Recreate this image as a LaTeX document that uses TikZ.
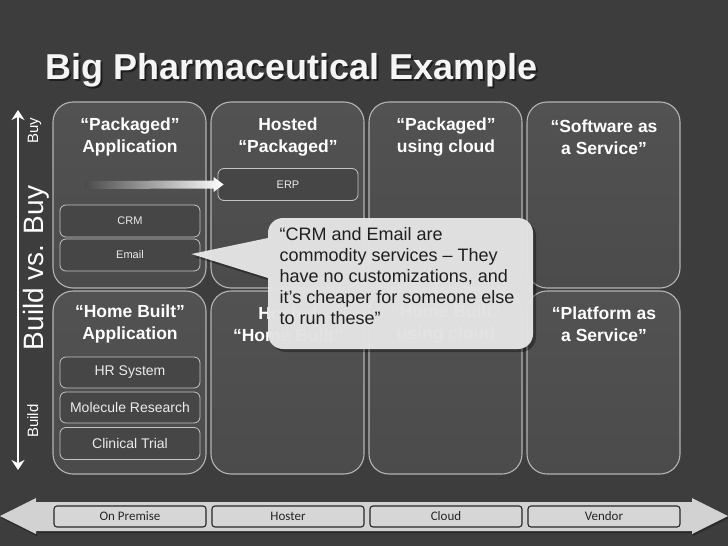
\documentclass[tikz,border=0pt]{standalone}
\usepackage{fontspec}
\setmainfont{Liberation Sans}
\newfontfamily\calib{Carlito}
\usetikzlibrary{arrows.meta,calc}
\definecolor{bgc}{HTML}{3D3D3D}
\definecolor{panelc}{HTML}{4B4B4B}
\definecolor{paneltop}{HTML}{525252}
\definecolor{panelbd}{HTML}{B4B4B4}
\definecolor{innerc}{HTML}{464646}
\definecolor{innerbd}{HTML}{C4C4C4}
\definecolor{callc}{HTML}{E6E6E6}
\definecolor{barc}{HTML}{D2D2D2}
\definecolor{boxc}{HTML}{D6D6D6}
\definecolor{tshadow}{HTML}{1E1E1E}
\tikzset{
  panel/.style={draw=panelbd, line width=1.1pt, rounded corners=20pt, top color=paneltop, bottom color=panelc, minimum width=153pt, inner sep=0pt},
  ptitle/.style={text=white, font=\fontsize{17.5}{22}\selectfont\bfseries, align=center, inner sep=0pt},
  innerbox/.style={draw=innerbd, line width=0.8pt, rounded corners=6pt, fill=innerc, minimum width=140pt, inner sep=0pt, text=white!92!black},
  smalltxt/.style={font=\fontsize{11}{13}\selectfont},
  midtxt/.style={font=\fontsize{14}{16}\selectfont},
  axislbl/.style={text=white, rotate=90, anchor=base, inner sep=0pt},
  barbox/.style={draw=black!85, line width=1.1pt, rounded corners=3pt, fill=boxc, minimum width=152pt, minimum height=21pt, inner sep=0pt, font=\calib\fontsize{13}{15}\selectfont, text=black!85},
}
\newcommand{\ttlwords}{Big Pharmaceutical Example}
\begin{document}
\begin{tikzpicture}[x=1pt,y=-1pt]
\useasboundingbox (0,0) rectangle (728,546);
\fill[bgc] (0,0) rectangle (728,546);

% title with shadow in one node
\node[anchor=base west, inner sep=0pt, text=white!96!black, font=\fontsize{36}{40}\selectfont\bfseries] (title) at (45,79.5)
  {\makebox[0pt][l]{\hspace{2pt}\raisebox{-2pt}{\color{tshadow}\ttlwords}}\ttlwords};

% vertical axis
\coordinate (vtop) at (18,110);
\coordinate (vbot) at (18,470);
\draw[white, line width=1.6pt, {Stealth[length=10pt,width=13pt]}-{Stealth[length=10pt,width=13pt]}] (vtop) -- (vbot);
\node[axislbl, font=\fontsize{15}{17}\selectfont] (buy) at (38,131) {Buy};
\node[axislbl, font=\fontsize{28}{30}\selectfont] (bvb) at (43.5,268) {Build vs. Buy};
\node[axislbl, font=\fontsize{15}{17}\selectfont] (build) at (38,421) {Build};

% panels top row
\node[panel, minimum height=186pt] (p11) at (129.5,195) {};
\node[panel, minimum height=186pt] (p12) at (287.5,195) {};
\node[panel, minimum height=186pt] (p13) at (445.5,195) {};
\node[panel, minimum height=186pt] (p14) at (603.5,195) {};
% panels bottom row
\node[panel, minimum height=183pt] (p21) at (129.5,382.5) {};
\node[panel, minimum height=183pt] (p22) at (287.5,382.5) {};
\node[panel, minimum height=183pt] (p23) at (445.5,382.5) {};
\node[panel, minimum height=183pt] (p24) at (603.5,382.5) {};

% panel titles
\node[ptitle] (t11) at (130,137) {“Packaged”\\Application};
\node[ptitle] (t12) at (288,137) {Hosted\\“Packaged”};
\node[ptitle] (t13) at (446,137) {“Packaged”\\using cloud};
\node[ptitle] (t14) at (604,137) {“Software as\\a Service”};
\node[ptitle] (t21) at (130,324) {“Home Built”\\Application};
\node[ptitle] (t22) at (288,324) {Hosted\\“Home Built”};
\node[ptitle] (t23) at (446,324) {“Home Built”\\using cloud};
\node[ptitle] (t24) at (604,324) {“Platform as\\a Service”};

% inner boxes
\node[innerbox, smalltxt, minimum height=32pt] (erp) at (288,184.5) {ERP};
\node[innerbox, smalltxt, minimum height=32pt] (crm) at (130,221) {CRM};
\node[innerbox, smalltxt, minimum height=32pt] (email) at (130,255) {Email};
\node[innerbox, midtxt, minimum height=31pt] (hr) at (130,372.5) {HR System};
\node[innerbox, midtxt, minimum height=31pt] (mol) at (130,407.5) {Molecule Research};
\node[innerbox, midtxt, minimum height=32pt] (clin) at (130,443.5) {Clinical Trial};

% gradient arrow into ERP
\coordinate (gstart) at (85,185);
\coordinate (gtip) at ($(erp.west)+(6,0)$);
\shade[left color=panelc, right color=white]
  (gstart) ++(0,-4) -- ($(gtip)+(-10,-4)$) -- ($(gtip)+(-10,-7.5)$) -- (gtip)
  -- ($(gtip)+(-10,7.5)$) -- ($(gtip)+(-10,4)$) -- ($(gstart)+(0,4)$) -- cycle;

% callout
\coordinate (ptip) at ($(email.east)+(-9,-1)$);
\fill[black, opacity=0.35] (271,241) -- ($(ptip)+(3,3)$) -- (271,281) [rounded corners=15pt] -- (271,352) -- (536,352) -- (536,221) -- (271,221) [sharp corners] -- cycle;
\fill[callc, opacity=0.965] (268,238) -- (ptip) -- (268,278) [rounded corners=15pt] -- (268,349) -- (533,349) -- (533,218) -- (268,218) [sharp corners] -- cycle;
\node[anchor=north west, align=left, inner sep=0pt, text=black!88, font=\fontsize{18}{21}\selectfont] (calltext) at (279.5,227) {“CRM and Email are\\commodity services – They\\have no customizations, and\\it’s cheaper for someone else\\to run these”};

% bottom double arrow bar
\fill[black, opacity=0.3] (1,518) -- (37,500) -- (37,504) -- (693,504) -- (693,500) -- (729,518) -- (693,536) -- (693,533) -- (37,533) -- (37,536) -- cycle;
\fill[barc] (0,516) -- (36,498) -- (36,502) -- (692,502) -- (692,498) -- (728,516) -- (692,534) -- (692,531) -- (36,531) -- (36,534) -- cycle;
\node[barbox] (onprem) at (130,516.5) {On Premise};
\node[barbox] (hoster) at (288,516.5) {Hoster};
\node[barbox] (cloud) at (446,516.5) {Cloud};
\node[barbox] (vendor) at (604,516.5) {Vendor};
\end{tikzpicture}
\end{document}
